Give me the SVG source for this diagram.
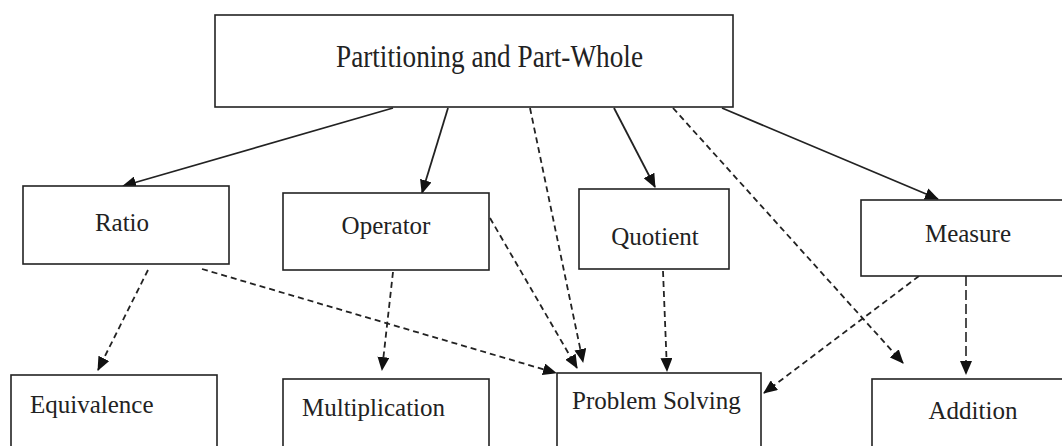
<svg xmlns="http://www.w3.org/2000/svg" width="1062" height="446" viewBox="0 0 1062 446">
<defs>
<style>
.box{fill:#fff;stroke:#222;stroke-width:1.6}
.t{font-family:"Liberation Serif","Times New Roman",serif;font-size:25px;fill:#222}
.s{fill:none;stroke:#222;stroke-width:1.8}
.d{fill:none;stroke:#222;stroke-width:1.8;stroke-dasharray:6 4}
.ld{fill:none;stroke:#222;stroke-width:1.6;stroke-dasharray:10 4}
</style>
<marker id="ah" markerWidth="14" markerHeight="12" refX="13" refY="6" orient="auto" markerUnits="userSpaceOnUse">
<path d="M0,0 L14,6 L0,12 Z" fill="#111"/>
</marker>
</defs>
<rect width="1062" height="446" fill="#fff"/>
<g id="connectors">
<line class="s" x1="393" y1="108" x2="123" y2="186" marker-end="url(#ah)"/>
<line class="s" x1="448" y1="108" x2="422" y2="193" marker-end="url(#ah)"/>
<line class="s" x1="614" y1="108" x2="655" y2="187" marker-end="url(#ah)"/>
<line class="s" x1="722" y1="108" x2="938" y2="199" marker-end="url(#ah)"/>
<line class="d" x1="530" y1="108" x2="583" y2="362" marker-end="url(#ah)"/>
<line class="d" x1="673" y1="108" x2="903" y2="363" marker-end="url(#ah)"/>
<line class="d" x1="490" y1="218" x2="577" y2="368" marker-end="url(#ah)"/>
<line class="d" x1="202" y1="269" x2="556" y2="373" marker-end="url(#ah)"/>
<line class="d" x1="148" y1="270" x2="98" y2="370" marker-end="url(#ah)"/>
<line class="d" x1="393" y1="272" x2="382" y2="370" marker-end="url(#ah)"/>
<line class="d" x1="663" y1="271" x2="667" y2="371" marker-end="url(#ah)"/>
<line class="d" x1="927" y1="270" x2="764" y2="393" marker-end="url(#ah)"/>
<line class="ld" x1="966" y1="276" x2="966" y2="374" marker-end="url(#ah)"/>
</g>
<g id="partitioning">
<rect class="box" x="215" y="15" width="518" height="92"/>
<text class="t" x="336" y="67" textLength="307" lengthAdjust="spacingAndGlyphs" style="font-size:31px">Partitioning and Part-Whole</text>
</g>
<g id="ratio">
<rect class="box" x="23" y="186" width="206" height="78"/>
<text class="t" x="122" y="231" text-anchor="middle">Ratio</text>
</g>
<g id="operator">
<rect class="box" x="283" y="193" width="206" height="77"/>
<text class="t" x="386" y="234" text-anchor="middle">Operator</text>
</g>
<g id="quotient">
<rect class="box" x="579" y="189" width="150" height="80"/>
<text class="t" x="655" y="245" text-anchor="middle">Quotient</text>
</g>
<g id="measure">
<rect class="box" x="861" y="200" width="210" height="76"/>
<text class="t" x="968" y="242" text-anchor="middle">Measure</text>
</g>
<g id="equivalence">
<rect class="box" x="11" y="375" width="206" height="90"/>
<text class="t" x="30" y="413">Equivalence</text>
</g>
<g id="multiplication">
<rect class="box" x="283" y="379" width="206" height="90"/>
<text class="t" x="302" y="416">Multiplication</text>
</g>
<g id="problem-solving">
<rect class="box" x="557" y="373" width="204" height="90"/>
<text class="t" x="572" y="409">Problem Solving</text>
</g>
<g id="addition">
<rect class="box" x="872" y="379" width="200" height="90"/>
<text class="t" x="973" y="419" text-anchor="middle">Addition</text>
</g>
</svg>
